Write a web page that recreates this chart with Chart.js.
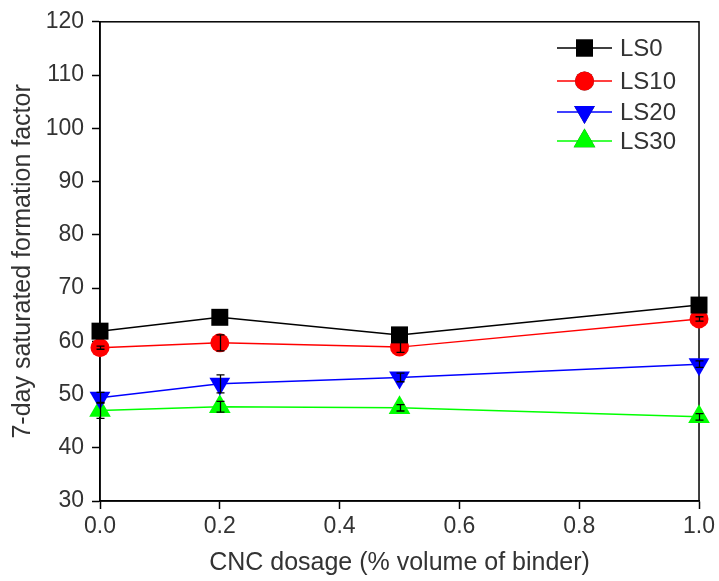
<!DOCTYPE html>
<html>
<head>
<meta charset="utf-8">
<script src="https://cdn.jsdelivr.net/npm/chart.js@4.4.1/dist/chart.umd.min.js"></script>
<style>
  html, body { margin: 0; padding: 0; background: #fff; }
  #wrap { width: 719px; height: 581px; position: relative; }
</style>
</head>
<body>
<div id="wrap"><canvas id="chart"></canvas></div>
<script type="text/javascript">
    // CNC dosage (% volume of binder)
    var dosage = [0.0, 0.2, 0.5, 1.0];

    // formation factor, one series per limestone replacement
    var ls0  = [61.9, 64.5, 61.2, 66.8];
    var ls10 = [58.8, 59.7, 58.9, 64.2];
    var ls20 = [49.4, 52.0, 53.2, 55.7];
    var ls30 = [47.0, 47.7, 47.5, 45.8];

    // half-width of the error bars
    var ls0Err  = [0.3, 0.3, 0.4, 0.3];
    var ls10Err = [0.3, 1.5, 1.0, 0.4];
    var ls20Err = [1.0, 1.7, 0.8, 0.6];
    var ls30Err = [1.5, 1.0, 0.6, 0.6];

    var seriesNames = ["LS0", "LS10", "LS20", "LS30"];
    var xTicks = [0.0, 0.2, 0.4, 0.6, 0.8, 1.0];
    var yTicks = [30, 40, 50, 60, 70, 80, 90, 100, 110, 120];

    var FONT = "'Liberation Sans', Arial, sans-serif";
    var TEXT = "#333";

    function toPoints(ys, errs){
        var pts = [];
        for(var i = 0; i < dosage.length; i++){
            pts.push({x: dosage[i], y: ys[i], err: errs[i]});
        }
        return pts;
    }

    var styles = [
        {color: "#000000", pointStyle: "rect", radius: 12, rotation: 0},
        {color: "#ff0000", pointStyle: "circle", radius: 9.5, rotation: 0},
        {color: "#0000ff", pointStyle: "triangle", radius: 12, rotation: 180},
        {color: "#00ff00", pointStyle: "triangle", radius: 12.5, rotation: 0}
    ];
    var allValues = [ls0, ls10, ls20, ls30];
    var allErrs = [ls0Err, ls10Err, ls20Err, ls30Err];

    var datasets = [];
    for(var s = 0; s < seriesNames.length; s++){
        datasets.push({
            label: seriesNames[s],
            data: toPoints(allValues[s], allErrs[s]),
            borderColor: styles[s].color,
            backgroundColor: styles[s].color,
            borderWidth: 1.5,
            pointStyle: styles[s].pointStyle,
            pointRadius: styles[s].radius,
            pointRotation: styles[s].rotation,
            pointBorderWidth: 0,
            pointHoverRadius: styles[s].radius,
            tension: 0,
            clip: false
        });
    }

    // error bars on top of the markers + closed frame round the plot
    var extras = {
        id: "extras",
        beforeDatasetsDraw: function(chart){
            var ctx = chart.ctx;
            var a = chart.chartArea;
            ctx.save();
            ctx.lineWidth = 1.5;
            ctx.strokeStyle = "#000";
            ctx.strokeRect(a.left, a.top, a.right - a.left, a.bottom - a.top);
            ctx.restore();
        },
        afterDatasetsDraw: function(chart){
            var ctx = chart.ctx;
            var ys = chart.scales.y;
            ctx.save();
            ctx.strokeStyle = "#000";
            ctx.lineWidth = 1.3;
            chart.data.datasets.forEach(function(ds, di){
                var meta = chart.getDatasetMeta(di);
                meta.data.forEach(function(pt, i){
                    var d = ds.data[i];
                    var top = ys.getPixelForValue(d.y + d.err);
                    var bot = ys.getPixelForValue(d.y - d.err);
                    var x = Math.round(pt.x) + 0.5;
                    ctx.beginPath();
                    ctx.moveTo(x, top); ctx.lineTo(x, bot);
                    ctx.moveTo(x - 4, top); ctx.lineTo(x + 4, top);
                    ctx.moveTo(x - 4, bot); ctx.lineTo(x + 4, bot);
                    ctx.stroke();
                });
            });
            ctx.restore();
        },
        afterDraw: function(chart){
            // legend: line segment with marker, then name
            var ctx = chart.ctx;
            ctx.save();
            var rows = [48, 81, 112, 141];
            chart.data.datasets.forEach(function(ds, di){
                var y = rows[di];
                ctx.strokeStyle = ds.borderColor;
                ctx.lineWidth = 1.5;
                ctx.beginPath();
                ctx.moveTo(557, y); ctx.lineTo(612, y);
                ctx.stroke();
                Chart.helpers.drawPoint(ctx, {
                    pointStyle: ds.pointStyle,
                    radius: ds.pointRadius,
                    rotation: ds.pointRotation,
                    borderWidth: 0
                }, 584.5, y);
                ctx.fillStyle = ds.backgroundColor;
                ctx.fill();
                ctx.fillStyle = TEXT;
                ctx.font = "24px " + FONT;
                ctx.textBaseline = "middle";
                ctx.textAlign = "left";
                ctx.fillText(ds.label, 620, y + 1);
            });
            ctx.restore();
        }
    };

    new Chart(document.getElementById("chart"), {
        type: "line",
        data: { datasets: datasets },
        options: {
            responsive: true,
            maintainAspectRatio: false,
            animation: false,
            events: [],
            layout: { padding: { top: 17, right: 19, left: 0, bottom: 0 } },
            plugins: { legend: { display: false }, tooltip: { enabled: false } },
            scales: {
                x: {
                    type: "linear",
                    min: 0, max: 1,
                    afterBuildTicks: function(scale){
                        scale.ticks = xTicks.map(function(v){ return {value: v}; });
                    },
                    afterFit: function(scale){ scale.height = 80; },
                    ticks: {
                        color: TEXT,
                        font: { family: FONT, size: 23 },
                        padding: 4,
                        maxRotation: 0,
                        callback: function(v){ return v.toFixed(1); }
                    },
                    grid: { drawOnChartArea: false, tickLength: 8, color: "#000", tickWidth: 1.5 },
                    border: { color: "#000", width: 1.5 },
                    title: {
                        display: true,
                        text: "CNC dosage (% volume of binder)",
                        color: TEXT,
                        font: { family: FONT, size: 25 },
                        padding: { top: 0, bottom: 3 }
                    }
                },
                y: {
                    min: 30, max: 120,
                    afterBuildTicks: function(scale){
                        scale.ticks = yTicks.map(function(v){ return {value: v}; });
                    },
                    afterFit: function(scale){ scale.width = 100; },
                    ticks: {
                        color: TEXT,
                        font: { family: FONT, size: 23 },
                        padding: 8
                    },
                    grid: { drawOnChartArea: false, tickLength: 8, color: "#000", tickWidth: 1.5 },
                    border: { color: "#000", width: 1.5 },
                    title: {
                        display: true,
                        text: "7-day saturated formation factor",
                        color: TEXT,
                        font: { family: FONT, size: 25 },
                        padding: { top: 8, bottom: 0 }
                    }
                }
            }
        },
        plugins: [extras]
    });
</script>
</body>
</html>
